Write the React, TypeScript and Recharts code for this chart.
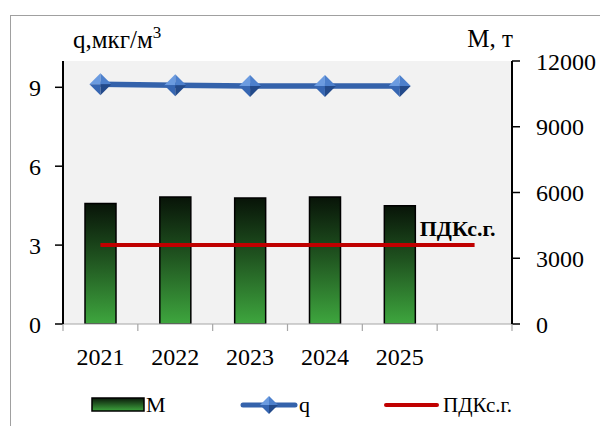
import React from 'react';
import { ComposedChart, Bar, Line, XAxis, YAxis, CartesianGrid, Legend } from 'recharts';

const years = ['2021', '2022', '2023', '2024', '2025', ''];
const massValues = [5500, 5800, 5750, 5800, 5400, null];
const qValues = [9.12, 9.08, 9.05, 9.05, 9.05, null];
const pdkValues = [3, 3, 3, 3, 3, 3];
const leftTicks = [0, 3, 6, 9];
const rightTicks = [0, 3000, 6000, 9000, 12000];

const data = years.map((y, i) => ({ year: y, M: massValues[i], q: qValues[i], pdk: pdkValues[i] }));

const FONT = 'Liberation Serif, Times New Roman, serif';
const X_MARGIN = 24;

const Diamond = (props: any) => {
  const { cx, cy } = props;
  const r = props.size || 11;
  if (cx == null || cy == null || isNaN(cx) || isNaN(cy)) return null;
  return (
    <g>
      <polygon points={`${cx},${cy - r} ${cx - r},${cy} ${cx},${cy}`} fill="#6b9be0" />
      <polygon points={`${cx},${cy - r} ${cx + r},${cy} ${cx},${cy}`} fill="#4d80cc" />
      <polygon points={`${cx - r},${cy} ${cx},${cy + r} ${cx},${cy}`} fill="#3666b2" />
      <polygon points={`${cx + r},${cy} ${cx},${cy + r} ${cx},${cy}`} fill="#234a8a" />
    </g>
  );
};

const XTick = (props: any) => {
  const { x, y, payload, index, visibleTicksCount } = props;
  const off = payload && payload.offset ? payload.offset : 0;
  const axisY = y - X_MARGIN;
  return (
    <g>
      <line x1={x - off} x2={x - off} y1={axisY} y2={axisY + 7} stroke="#a6a6a6" strokeWidth={1.2} />
      {index === visibleTicksCount - 1 && (
        <line x1={x + off} x2={x + off} y1={axisY} y2={axisY + 7} stroke="#a6a6a6" strokeWidth={1.2} />
      )}
      <text x={x} y={y} dy="0.71em" textAnchor="middle" fontFamily={FONT} fontSize={24} fill="#000">
        {payload.value}
      </text>
    </g>
  );
};

const PdkLabel = (props: any) => {
  const { x, y, index } = props;
  if (index !== years.length - 1) return null;
  return (
    <text x={x + 21} y={y - 9} textAnchor="end" fontFamily={FONT} fontSize={22} fontWeight="bold" fill="#000">
      ПДКс.г.
    </text>
  );
};

const LegendContent = () => (
  <svg width={600} height={24} style={{ display: 'block' }}>
    <defs>
      <linearGradient id="legGrad" x1="0" y1="0" x2="0" y2="1">
        <stop offset="0%" stopColor="#0a1a0a" />
        <stop offset="50%" stopColor="#245f24" />
        <stop offset="100%" stopColor="#3da53d" />
      </linearGradient>
    </defs>
    <rect x={92} y={5} width={52} height={13} fill="url(#legGrad)" stroke="#000" strokeWidth={1.5} />
    <text x={146} y={19} fontFamily={FONT} fontSize={22} fill="#000">М</text>
    <line x1={243} x2={295} y1={12} y2={12} stroke="#3462ab" strokeWidth={5} strokeLinecap="round" />
    <Diamond cx={269} cy={12} size={9} />
    <text x={299} y={19} fontFamily={FONT} fontSize={22} fill="#000">q</text>
    <line x1={386} x2={437} y1={12} y2={12} stroke="#c00000" strokeWidth={4} strokeLinecap="round" />
    <text x={443} y={19} fontFamily={FONT} fontSize={21} fill="#000">ПДКс.г.</text>
  </svg>
);

const LeftTitle = (props: any) => {
  const vb = props.viewBox || {};
  return (
    <text x={(vb.x || 0) + 73} y={(vb.y || 0) - 13} fontFamily={FONT} fontSize={25} fill="#000">
      q,мкг/м<tspan dy={-10} fontSize={17}>3</tspan>
    </text>
  );
};

const RightTitle = (props: any) => {
  const vb = props.viewBox || {};
  return (
    <text x={(vb.x || 0) + 1} y={(vb.y || 0) - 14} textAnchor="end" fontFamily={FONT} fontSize={25} fill="#000">
      М, т
    </text>
  );
};

export default function App() {
  return (
    <div style={{ position: 'fixed', left: 0, top: 0, width: 600, height: 426, overflow: 'hidden', background: '#fff' }}>
      <div style={{ position: 'absolute', left: 10, top: 15, width: 700, height: 600, border: '1px solid #a0a0a0' }} />
      <div style={{ position: 'absolute', left: 0, top: 0 }}>
        <ComposedChart width={600} height={426} data={data} margin={{ top: 61, right: 0, bottom: 9, left: 0 }}>
          <defs>
            <linearGradient id="barGrad" x1="0" y1="0" x2="0" y2="1">
              <stop offset="0%" stopColor="#081408" />
              <stop offset="45%" stopColor="#1f521f" />
              <stop offset="100%" stopColor="#3ea63e" />
            </linearGradient>
          </defs>
          <CartesianGrid fill="#f2f2f2" horizontal={false} vertical={false} />
          <XAxis
            dataKey="year"
            height={69}
            axisLine={{ stroke: '#a6a6a6', strokeWidth: 1.2 }}
            tickLine={false}
            tickSize={0}
            tickMargin={X_MARGIN}
            tick={<XTick />}
            interval={0}
          />
          <YAxis
            yAxisId="left"
            orientation="left"
            width={63}
            domain={[0, 10]}
            ticks={leftTicks}
            allowDataOverflow
            axisLine={{ stroke: '#000', strokeWidth: 2 }}
            tickLine={{ stroke: '#000', strokeWidth: 1.5 }}
            tickSize={8}
            tickMargin={14}
            tick={{ fontFamily: FONT, fontSize: 24, fill: '#000' }}
            label={{ content: <LeftTitle /> } as any}
          />
          <YAxis
            yAxisId="right"
            orientation="right"
            width={88}
            domain={[0, 12000]}
            ticks={rightTicks}
            allowDataOverflow
            axisLine={{ stroke: '#000', strokeWidth: 2 }}
            tickLine={{ stroke: '#000', strokeWidth: 1.5 }}
            tickSize={8}
            tickMargin={16}
            tick={{ fontFamily: FONT, fontSize: 24, fill: '#000', textAnchor: 'start' }}
            label={{ content: <RightTitle /> } as any}
          />
          <Legend
            verticalAlign="bottom"
            content={<LegendContent />}
            wrapperStyle={{ left: 0, width: 600, height: 24 }}
          />
          <Bar
            yAxisId="right"
            dataKey="M"
            name="М"
            barSize={31}
            fill="url(#barGrad)"
            stroke="#000"
            strokeWidth={1.5}
            isAnimationActive={false}
          />
          <Line
            yAxisId="left"
            dataKey="pdk"
            name="ПДКс.г."
            stroke="#c00000"
            strokeWidth={4}
            dot={false}
            activeDot={false}
            label={<PdkLabel />}
            isAnimationActive={false}
          />
          <Line
            yAxisId="left"
            dataKey="q"
            name="q"
            stroke="#3462ab"
            strokeWidth={5.5}
            dot={(p: any) => <Diamond key={`d-${p.index}`} cx={p.cx} cy={p.cy} size={11} />}
            activeDot={false}
            isAnimationActive={false}
          />
        </ComposedChart>
      </div>
    </div>
  );
}
